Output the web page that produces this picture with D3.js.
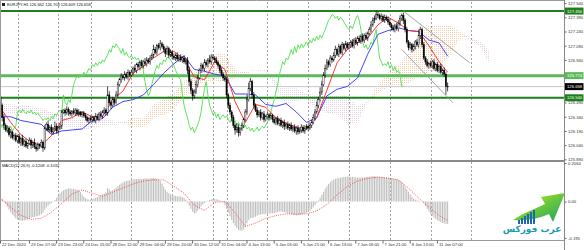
<!DOCTYPE html>
<html>
<head>
<meta charset="utf-8">
<script src="https://cdn.jsdelivr.net/npm/d3@7"></script>
<style>
html,body{margin:0;padding:0;background:#fff;}
svg{display:block;font-family:"Liberation Sans",Arial,sans-serif;}
</style>
</head>
<body>
<svg id="chart" width="584" height="250"></svg>
<script>
// EURJPY H1, one value per hourly bar (22 Dec 14:00 .. 11 Jan 10:00)
var firstOpen = 126.55;
var closes = [
    126.46,126.33,126.25,126.20,126.22,126.15,126.18,126.12,126.14,126.09,126.13,
    126.07,126.11,126.05,126.08,126.03,126.06,126.09,126.04,126.07,126.02,126.00,126.05,126.03,126.07,126.01,
    126.22,126.26,126.20,126.23,126.18,126.21,126.24,126.19,126.22,126.24,
    126.39,126.41,126.38,126.42,126.39,126.37,126.40,126.38,126.41,126.37,126.39,126.36,126.38,126.35,126.33,126.30,126.32,
    126.31,126.33,126.30,126.34,126.32,126.37,126.35,126.39,126.41,126.38,126.57,126.49,126.46,126.52,126.49,126.57,126.68,126.73,126.77,126.75,126.79,126.76,126.81,126.78,
    126.81,126.85,126.83,126.89,126.87,126.91,126.88,126.92,126.90,126.94,126.92,126.96,126.99,127.05,127.02,127.09,127.07,127.11,127.08,127.05,127.01,127.06,126.99,127.02,
    126.98,126.96,126.99,126.95,126.97,126.94,126.96,126.92,126.94,126.83,126.71,126.62,126.56,126.60,126.68,126.75,126.83,126.88,126.85,126.91,126.89,126.94,126.92,126.97,
    126.96,126.94,126.91,126.88,126.83,126.79,126.75,126.73,
    126.57,126.46,126.39,126.33,126.25,126.20,126.23,126.17,126.21,126.25,126.31,126.39,126.52,126.64,126.71,126.57,126.46,126.41,126.36,126.39,126.33,126.37,126.31,126.34,
    126.36,126.33,126.35,126.31,126.28,126.32,126.27,126.30,126.25,126.28,126.24,126.26,126.22,126.25,126.21,126.23,126.19,126.22,126.18,126.20,126.23,126.19,126.22,126.24,
    126.22,126.25,126.28,126.33,126.39,126.46,126.52,126.60,126.68,126.78,126.85,126.92,126.89,126.96,126.94,126.99,127.05,127.00,127.08,127.02,127.10,127.06,127.11,127.07,
    127.10,127.13,127.09,127.15,127.12,127.17,127.14,127.19,127.15,127.20,127.17,127.22,127.26,127.31,127.36,127.38,127.42,127.41,127.38,127.40,127.36,127.39,127.37,127.34,
    127.31,127.28,127.26,127.30,127.27,127.32,127.38,127.41,127.36,127.26,127.13,127.07,127.10,127.05,127.08,127.13,127.10,127.20,127.26,127.10,126.96,126.92,126.88,126.90,
    126.88,126.92,126.85,126.89,126.83,126.87,126.81,126.83,126.79,126.662,126.658
];
// wick lengths in pips above the body and below it
var wickUp = [
    3,2,4,2,3,2,3,1,2,3,
    2,3,2,4,2,3,1,3,2,2,4,3,2,1,3,2,3,2,4,2,3,2,5,3,
    2,3,2,1,2,3,2,2,1,3,2,2,3,1,2,2,3,2,2,
    3,2,2,4,3,2,3,2,3,2,9,4,3,3,2,4,3,2,3,2,3,2,3,2,
    3,2,4,2,3,2,3,2,4,3,2,3,2,5,3,2,3,4,2,3,2,3,2,3,
    2,3,2,3,2,3,2,3,2,3,4,3,2,3,4,3,2,3,2,4,3,2,5,3,
    3,2,3,2,2,3,2,2,
    3,2,3,2,3,2,4,3,2,3,2,3,5,6,4,2,3,2,3,2,3,2,3,2,
    3,2,3,2,3,2,3,2,3,2,3,2,3,2,3,2,3,2,3,2,3,2,3,2,
    2,3,3,4,3,4,3,5,4,3,4,3,2,3,2,3,4,2,3,2,3,2,3,2,
    3,2,3,2,3,2,3,2,3,2,3,2,3,4,3,3,4,3,2,3,2,3,2,3,
    3,2,3,2,3,4,3,2,3,2,3,2,3,2,3,2,3,6,3,2,3,2,3,2,
    3,2,3,2,3,2,3,2,3,2,4
];
var wickDn = [
    2,4,3,2,3,2,4,2,3,2,
    3,2,4,2,3,2,3,2,4,3,2,3,2,3,2,4,2,3,2,3,2,3,2,3,
    3,2,3,2,3,2,4,2,3,2,3,2,3,2,3,2,3,2,3,
    2,3,2,3,2,3,2,3,2,3,3,2,4,2,3,2,3,2,3,2,3,2,3,2,
    2,3,2,3,2,4,2,3,2,3,2,3,2,3,2,3,2,3,2,3,4,2,3,2,
    3,2,3,2,3,2,3,2,3,4,5,4,5,3,2,3,2,3,2,3,2,3,2,3,
    2,3,2,3,3,2,3,2,
    3,4,3,4,3,5,3,4,3,2,3,2,3,2,3,4,3,2,3,2,3,2,3,2,
    2,3,2,3,2,3,2,3,2,3,4,3,2,3,2,3,2,4,3,2,3,2,3,2,
    3,2,3,2,3,2,3,2,3,2,3,2,3,2,3,2,3,2,3,2,3,2,3,2,
    2,3,2,3,2,3,2,3,2,3,2,3,2,3,2,3,2,3,2,3,2,3,2,3,
    2,3,2,3,2,3,2,3,4,3,2,3,2,3,2,3,2,3,4,3,2,3,2,3,
    2,3,2,3,2,3,2,3,3,9,5
];

// Ichimoku lines read every 6 bars
var ichiBars = d3.range(0, 259, 6).concat([263]);
var tenkan = [126.43,126.28,126.15,126.07,126.04,126.14,126.30,126.33,126.39,126.34,126.34,126.52,126.61,126.80,126.87,
    126.96,127.03,127.03,126.95,126.76,126.73,126.92,126.84,126.50,126.28,126.47,126.44,126.33,126.27,126.23,
    126.21,126.33,126.62,126.91,127.05,127.12,127.17,127.31,127.39,127.33,127.25,127.24,127.09,126.92,126.81];
var kijun = [126.34,126.34,126.30,126.28,126.26,126.15,126.19,126.20,126.21,126.30,126.32,126.44,126.50,126.52,126.57,
    126.68,126.80,126.90,126.98,126.84,126.82,126.79,126.77,126.58,126.58,126.57,126.47,126.45,126.48,126.39,
    126.28,126.33,126.56,126.63,126.66,126.75,127.00,127.21,127.25,127.28,127.25,127.24,127.15,127.12,126.98];
var cloudBars = d3.range(0, 289, 6);
var spanA = [126.39,126.38,126.38,126.37,126.35,126.28,126.25,126.22,126.20,126.22,126.24,126.25,126.27,
    126.33,126.32,126.47,126.53,126.60,126.72,126.80,126.93,127.00,127.00,
    126.83,126.79,126.83,126.82,126.63,126.47,126.51,126.52,126.40,126.38,
    126.36,126.25,126.27,126.50,126.68,126.82,126.89,127.01,127.21,127.30,
    127.30,127.31,127.24,127.14,127.09,126.88];
var spanB = [126.49,126.47,126.46,126.45,126.43,126.39,126.36,126.33,126.31,126.31,126.31,126.30,126.28,
    126.23,126.23,126.32,126.36,126.41,126.55,126.64,126.71,126.71,126.71,
    126.75,126.81,126.84,126.84,126.72,126.64,126.64,126.58,126.57,126.57,
    126.57,126.56,126.45,126.48,126.59,126.65,126.67,126.69,126.78,126.81,
    126.83,126.98,127.16,127.18,127.14,127.02];
var chikouShift = 26;

// MACD(12,26,9) main value per bar, signal read every 6 bars
var macd = [
    0.018,0.012,0.004,-0.012,-0.028,-0.044,-0.058,-0.070,-0.080,-0.090,-0.096,
    -0.100,-0.102,-0.104,-0.102,-0.100,-0.096,
    -0.092,-0.088,-0.084,-0.082,-0.080,-0.078,-0.074,-0.068,-0.060,
    -0.044,-0.032,-0.022,-0.014,-0.008,-0.002,
    0.008,0.020,0.032,0.044,0.054,0.060,0.064,0.068,0.070,0.070,0.068,0.068,0.066,0.064,0.060,
    0.050,0.038,0.026,0.018,0.012,0.010,
    0.010,0.012,0.016,0.020,0.024,0.028,
    0.032,0.038,0.042,0.048,0.072,0.064,0.056,0.060,0.066,
    0.074,0.082,0.090,0.096,0.102,0.106,0.110,0.112,0.114,0.116,
    0.118,0.120,0.120,0.122,0.122,0.120,0.122,0.124,0.124,0.122,0.124,0.126,0.126,0.124,0.122,0.120,
    0.110,0.096,0.080,0.064,
    0.052,0.044,0.038,0.034,0.032,0.030,0.028,0.028,0.026,0.024,
    0.020,0.010,-0.006,-0.024,-0.040,-0.054,-0.064,
    -0.060,-0.050,-0.038,-0.026,-0.016,-0.008,
    -0.002,0.004,0.008,0.012,0.014,0.014,0.012,0.010,0.006,0.002,
    -0.006,-0.020,-0.040,-0.060,-0.080,-0.100,-0.116,-0.130,-0.142,-0.152,
    -0.156,-0.156,-0.150,-0.136,-0.116,
    -0.100,-0.090,-0.088,-0.086,-0.082,
    -0.076,-0.072,-0.070,-0.068,-0.068,-0.066,-0.066,-0.064,-0.064,-0.062,-0.062,-0.060,
    -0.056,-0.054,-0.054,-0.056,-0.058,-0.060,-0.064,-0.066,
    -0.068,-0.070,-0.072,-0.074,-0.074,-0.072,
    -0.070,-0.068,-0.064,-0.060,-0.056,-0.050,-0.042,-0.032,-0.020,-0.008,
    0.006,0.020,0.036,0.052,0.068,0.082,0.094,0.104,0.112,0.118,
    0.122,0.124,0.126,0.128,0.130,0.132,0.132,0.134,0.134,0.132,0.132,0.130,0.130,0.128,0.128,0.128,0.130,0.130,0.132,0.132,0.134,0.134,0.136,0.136,0.134,0.134,0.132,
    0.132,0.130,0.128,0.128,0.126,0.126,0.124,0.122,0.120,0.118,0.116,0.112,
    0.104,0.092,0.080,0.066,0.052,0.038,0.026,0.016,
    0.010,0.006,0.004,0.002,0.000,-0.008,
    -0.024,-0.040,-0.054,-0.066,-0.076,-0.086,-0.094,-0.101,-0.106,-0.111,-0.115,-0.118,-0.120,-0.121
];
var sigBars = d3.range(0, 259, 6).concat([263]);
var signal = [0.018,-0.030,-0.074,-0.096,-0.090,-0.058,-0.010,0.040,0.062,0.044,0.028,0.050,0.072,0.094,0.110,
    0.116,0.116,0.082,0.044,-0.020,-0.048,-0.004,0.000,-0.060,-0.134,-0.116,-0.090,-0.076,-0.066,-0.068,
    -0.066,-0.050,-0.016,0.036,0.080,0.110,0.124,0.130,0.126,0.116,0.072,0.018,-0.030,-0.075,-0.103];
var macdTicks = [0.2064, 0, -0.195];
var macdTickText = ["0.2064", "0.00", "-0.195"];

// horizontal levels and the channel drawn on the chart
var levels = [
    {price: 127.456, color: "#1f7f1f", width: 2, label: "127.456"},
    {price: 126.774, color: "#5cb85c", width: 3, label: "126.774"},
    {price: 126.540, color: "#1a801a", width: 2, label: "126.540"}
];
var bidPrice = 126.658;
var trendLines = [
    {b0: 237, p0: 127.456, b1: 276, p1: 126.91},
    {b0: 236, p0: 127.05, b1: 266, p1: 126.49}
];

// 126.790 and 126.640 sit under the level tags, so they are left out
var priceTicks = [127.540,127.390,127.240,127.090,126.940,126.490,126.340,126.190,126.040,125.890];
var dayStarts = [10,34,53,77,101,125,133,157,181,205,229,253,277];
var timeBars = [0,17,33,49,65,81,97,113,129,145,161,177,193,209,225,241,257];
var timeLabels = ["22 Dec 2020","23 Dec 07:00","23 Dec 23:00","24 Dec 15:00","28 Dec 12:00","29 Dec 04:00",
    "29 Dec 20:00","30 Dec 12:00","31 Dec 04:00","4 Jan 13:00","5 Jan 05:00","5 Jan 21:00","6 Jan 13:00",
    "7 Jan 05:00","7 Jan 21:00","8 Jan 13:00","11 Jan 07:00"];

var W = 584, plotR = 564;
var mainTop = 2, mainBot = 160, macdTop = 162, macdBot = 240;

var svg = d3.select("#chart");
var xs = d3.scaleLinear().domain([0, 300]).range([0.5, 510.5]);
var yP = d3.scaleLinear().domain([125.883, 127.5516]).range([mainBot, mainTop]);
var yM = d3.scaleLinear().domain([-0.2064, 0.2118]).range([macdBot, macdTop]);

var defs = svg.append("defs");
defs.append("clipPath").attr("id", "clipMain").append("rect")
    .attr("x", 0).attr("y", mainTop).attr("width", plotR).attr("height", mainBot - mainTop);
defs.append("clipPath").attr("id", "clipMacd").append("rect")
    .attr("x", 0).attr("y", macdTop).attr("width", plotR).attr("height", macdBot - macdTop);
function dotPattern(id, color) {
    var p = defs.append("pattern").attr("id", id).attr("patternUnits", "userSpaceOnUse")
        .attr("width", 2).attr("height", 2);
    p.append("rect").attr("x", 0).attr("y", 0).attr("width", 1).attr("height", 1).attr("fill", color);
}
dotPattern("dotOrange", "#f6b98c");
dotPattern("dotPink", "#dcc4dc");

svg.append("rect").attr("x", 0).attr("y", 0).attr("width", W).attr("height", 250).attr("fill", "#fff");

// day separators
svg.append("g").selectAll("line").data(dayStarts).enter().append("line")
    .attr("x1", function (d) { return Math.round(xs(d)) + 0.5; })
    .attr("x2", function (d) { return Math.round(xs(d)) + 0.5; })
    .attr("y1", mainTop).attr("y2", macdBot)
    .attr("stroke", "#8c8c8c").attr("stroke-width", 0.8).attr("stroke-dasharray", "2,2");

var main = svg.append("g").attr("clip-path", "url(#clipMain)");

// cloud
var cloud = cloudBars.map(function (b, i) { return {b: b, a: spanA[i], s: spanB[i]}; });
main.append("path").datum(cloud)
    .attr("d", d3.area().x(function (d) { return xs(d.b); })
        .y0(function (d) { return yP(d.s); })
        .y1(function (d) { return yP(Math.max(d.a, d.s)); }))
    .attr("fill", "url(#dotOrange)").attr("opacity", 0.75);
main.append("path").datum(cloud)
    .attr("d", d3.area().x(function (d) { return xs(d.b); })
        .y0(function (d) { return yP(d.a); })
        .y1(function (d) { return yP(Math.max(d.a, d.s)); }))
    .attr("fill", "url(#dotPink)").attr("opacity", 0.8);

// bid line
main.append("line").attr("x1", 0).attr("x2", plotR)
    .attr("y1", yP(bidPrice)).attr("y2", yP(bidPrice))
    .attr("stroke", "#c8c8c8").attr("stroke-width", 1);

// levels
main.selectAll("line.level").data(levels).enter().append("line").attr("class", "level")
    .attr("x1", 0).attr("x2", plotR)
    .attr("y1", function (d) { return yP(d.price); }).attr("y2", function (d) { return yP(d.price); })
    .attr("stroke", function (d) { return d.color; })
    .attr("stroke-width", function (d) { return d.width; });

// channel
main.selectAll("line.trend").data(trendLines).enter().append("line").attr("class", "trend")
    .attr("x1", function (d) { return xs(d.b0); }).attr("y1", function (d) { return yP(d.p0); })
    .attr("x2", function (d) { return xs(d.b1); }).attr("y2", function (d) { return yP(d.p1); })
    .attr("stroke", "#9a9a9a").attr("stroke-width", 0.9);

// ichimoku lines
function ichiLine(bars, vals, color) {
    var pts = bars.map(function (b, i) { return [b, vals[i]]; });
    main.append("path").datum(pts)
        .attr("d", d3.line().x(function (d) { return xs(d[0]); }).y(function (d) { return yP(d[1]); }))
        .attr("fill", "none").attr("stroke", color).attr("stroke-width", 0.9);
}
var chikou = closes.slice(chikouShift).map(function (c, i) { return [i, c]; });
main.append("path").datum(chikou)
    .attr("d", d3.line().x(function (d) { return xs(d[0]); }).y(function (d) { return yP(d[1]); }))
    .attr("fill", "none").attr("stroke", "#4be04b").attr("stroke-width", 0.9);
ichiLine(ichiBars, kijun, "#3030ff");
ichiLine(ichiBars, tenkan, "#ff2020");

// candles
var bars = closes.map(function (c, i) {
    var o = i === 0 ? firstOpen : closes[i - 1];
    return {i: i, o: o, c: c,
        h: Math.max(o, c) + wickUp[i] / 100,
        l: Math.min(o, c) - wickDn[i] / 100};
});
var cg = main.append("g");
cg.selectAll("line").data(bars).enter().append("line")
    .attr("x1", function (d) { return xs(d.i); }).attr("x2", function (d) { return xs(d.i); })
    .attr("y1", function (d) { return yP(d.h); }).attr("y2", function (d) { return yP(d.l); })
    .attr("stroke", "#000").attr("stroke-width", 0.7);
cg.selectAll("rect").data(bars).enter().append("rect")
    .attr("x", function (d) { return xs(d.i) - 0.65; })
    .attr("width", 1.3)
    .attr("y", function (d) { return yP(Math.max(d.o, d.c)); })
    .attr("height", function (d) { return Math.max(0.7, Math.abs(yP(d.o) - yP(d.c))); })
    .attr("fill", function (d) { return d.c >= d.o ? "#fff" : "#000"; })
    .attr("stroke", "#000").attr("stroke-width", 0.4);

// MACD pane
var mg = svg.append("g").attr("clip-path", "url(#clipMacd)");
mg.selectAll("rect").data(macd).enter().append("rect")
    .attr("x", function (d, i) { return xs(i) - 0.55; })
    .attr("width", 1.1)
    .attr("y", function (d) { return Math.min(yM(d), yM(0)); })
    .attr("height", function (d) { return Math.abs(yM(d) - yM(0)); })
    .attr("fill", "#c0c0c0");
mg.append("path").datum(sigBars.map(function (b, i) { return [b, signal[i]]; }))
    .attr("d", d3.line().x(function (d) { return xs(d[0]); }).y(function (d) { return yM(d[1]); }))
    .attr("fill", "none").attr("stroke", "#ff3030").attr("stroke-width", 0.8)
    .attr("stroke-dasharray", "1,1.2");

// borders
svg.append("line").attr("x1", 0).attr("x2", plotR).attr("y1", 0.5).attr("y2", 0.5).attr("stroke", "#9a9a9a");
svg.append("line").attr("x1", 0.5).attr("x2", 0.5).attr("y1", 0).attr("y2", macdBot).attr("stroke", "#9a9a9a");
svg.append("line").attr("x1", 0).attr("x2", plotR).attr("y1", 161).attr("y2", 161).attr("stroke", "#8a8a8a").attr("stroke-width", 2);
svg.append("line").attr("x1", 0).attr("x2", plotR + 1).attr("y1", macdBot + 0.5).attr("y2", macdBot + 0.5).attr("stroke", "#9a9a9a");
svg.append("line").attr("x1", plotR + 0.5).attr("x2", plotR + 0.5).attr("y1", 0).attr("y2", 250).attr("stroke", "#8a8a8a");

// price axis
var pAxis = svg.append("g").attr("transform", "translate(" + (plotR + 0.5) + ",0)")
    .call(d3.axisRight(yP).tickValues(priceTicks).tickSize(2).tickPadding(1.5)
        .tickFormat(d3.format(".3f")));
pAxis.select(".domain").remove();
pAxis.selectAll("text").attr("font-size", 4.2).attr("fill", "#333");
pAxis.selectAll("line").attr("stroke", "#666");

var mAxis = svg.append("g").attr("transform", "translate(" + (plotR + 0.5) + ",0)")
    .call(d3.axisRight(yM).tickValues(macdTicks).tickSize(2).tickPadding(1.5)
        .tickFormat(function (d, i) { return macdTickText[i]; }));
mAxis.select(".domain").remove();
mAxis.selectAll("text").attr("font-size", 4.2).attr("fill", "#333");
mAxis.selectAll("line").attr("stroke", "#666");

// level tags
var tags = levels.map(function (d) { return {price: d.price, label: d.label, bg: d.color}; })
    .concat([{price: bidPrice, label: "126.658", bg: "#000"}]);
var tg = svg.append("g").selectAll("g").data(tags).enter().append("g")
    .attr("transform", function (d) { return "translate(" + (plotR + 1) + "," + yP(d.price) + ")"; });
tg.append("rect").attr("x", 0).attr("y", -3.5).attr("width", 18.5).attr("height", 7)
    .attr("fill", function (d) { return d.bg; });
tg.append("text").attr("x", 2).attr("y", 0).attr("dy", "0.35em").attr("font-size", 4.2)
    .attr("fill", "#fff").text(function (d) { return d.label; });

// time axis
var tAxis = svg.append("g").attr("transform", "translate(0," + (macdBot + 0.5) + ")");
var tt = tAxis.selectAll("g").data(timeBars).enter().append("g")
    .attr("transform", function (d) { return "translate(" + xs(d) + ",0)"; });
tt.append("line").attr("x1", 0).attr("x2", 0).attr("y1", 0).attr("y2", 3).attr("stroke", "#666");
tt.append("text").attr("x", 1.5).attr("y", 5.5).attr("font-size", 4.2).attr("fill", "#333")
    .text(function (d, i) { return timeLabels[i]; });

// titles
svg.append("rect").attr("x", 2).attr("y", 3).attr("width", 3).attr("height", 3).attr("fill", "#222");
svg.append("text").attr("x", 7).attr("y", 6.3).attr("font-size", 4).attr("fill", "#111")
    .text("EURJPY,H1  126.662 126.703 126.609 126.658");
svg.append("text").attr("x", 2).attr("y", 167).attr("font-size", 4).attr("fill", "#111")
    .text("MACD(12,26,9) -0.1208 -0.1032");

// watermark logo
var logo = svg.append("g");
var grad = defs.append("linearGradient").attr("id", "arrowGrad")
    .attr("x1", "0").attr("y1", "0").attr("x2", "1").attr("y2", "1");
grad.append("stop").attr("offset", "0").attr("stop-color", "#f0f000");
grad.append("stop").attr("offset", "0.5").attr("stop-color", "#6cc83a");
grad.append("stop").attr("offset", "1").attr("stop-color", "#1aa06a");
logo.append("path").attr("d", "M513,220 C525,212 535,209 545,204 L541,197 L565,193 L553,222 L549,214 C538,219 526,221 513,220 Z")
    .attr("fill", "url(#arrowGrad)");
[0, 1, 2, 3, 4, 5].forEach(function (k) {
    var h = 4 + k * 2;
    logo.append("rect").attr("x", 518 + k * 3).attr("y", 224 - h).attr("width", 2).attr("height", h)
        .attr("fill", "#1f66b0");
});
logo.append("text").attr("x", 532).attr("y", 232).attr("text-anchor", "middle")
    .attr("font-family", "DejaVu Sans, sans-serif").attr("font-weight", "bold")
    .attr("font-size", 9).attr("fill", "#1c9cb0").text("عرب فوركس");
</script>
</body>
</html>
